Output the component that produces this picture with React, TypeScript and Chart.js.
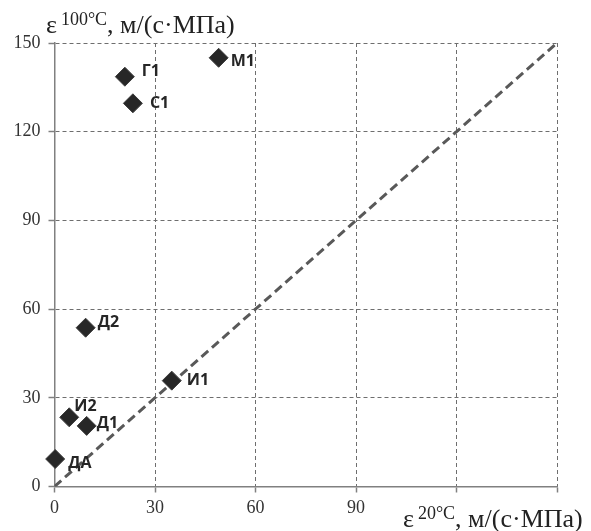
import React, { useEffect, useRef } from "react";
import { Chart, registerables } from "chart.js";

Chart.register(...registerables);

// Data
const pointNames = ["М1", "Г1", "С1", "Д2", "И1", "И2", "Д1", "ДА"];
const x20 = [49, 21, 23.4, 9.3, 35, 4.4, 9.6, 0.2];
const y100 = [145, 138.6, 129.6, 53.7, 35.8, 23.4, 20.5, 9.3];
const diagonalX = [0, 150];
const diagonalY = [0, 150];
const axisMin = 0;
const axisMax = 150;
const tickStep = 30;
const hiddenXTicks = [120, 150];

// label offsets (layout only)
const labelOffsets: [number, number][] = [
  [12, 4], [17, -5], [17, 0], [12, -5], [15, 0], [5, -11], [10, -2], [13, 4],
];

const labelsPlugin = {
  id: "pointLabels",
  afterDatasetsDraw(chart: any) {
    const ctx = chart.ctx;
    const meta = chart.getDatasetMeta(0);
    ctx.save();
    ctx.font = "bold 16px 'Open Sans'";
    ctx.fillStyle = "#262626";
    ctx.textAlign = "left";
    ctx.textBaseline = "middle";
    meta.data.forEach((el: any, i: number) => {
      const [dx, dy] = labelOffsets[i];
      ctx.fillText(pointNames[i], el.x + dx, el.y + dy);
    });
    ctx.restore();
  },
};

function drawTitle(ctx: CanvasRenderingContext2D, x: number, y: number, sup: string) {
  const main = "26px 'Liberation Serif'";
  const small = "18px 'Liberation Serif'";
  ctx.font = main;
  ctx.fillText("ε", x, y);
  x += ctx.measureText("ε").width + 4;
  ctx.font = small;
  ctx.fillText(sup, x, y - 8);
  x += ctx.measureText(sup).width;
  ctx.font = main;
  ctx.fillText(", м/(с·МПа)", x, y);
}

const titlesPlugin = {
  id: "axisTitles",
  afterDraw(chart: any) {
    const ctx = chart.ctx;
    ctx.save();
    ctx.fillStyle = "#222";
    ctx.textAlign = "left";
    ctx.textBaseline = "alphabetic";
    drawTitle(ctx, 46, 33, "100°C");
    drawTitle(ctx, 403, 527, "20°C");
    ctx.restore();
  },
};

export default function App() {
  const ref = useRef<HTMLCanvasElement>(null);
  useEffect(() => {
    if (!ref.current) return;
    const gridCommon = {
      color: "#6e6e6e",
      lineWidth: 1,
      tickLength: 6,
      tickColor: "#808080",
      tickWidth: 1.5,
    };
    const chart = new Chart(ref.current, {
      type: "scatter",
      data: {
        datasets: [
          {
            data: x20.map((v, i) => ({ x: v, y: y100[i] })),
            pointStyle: "rectRot",
            pointRadius: 9.5,
            pointBackgroundColor: "#272727",
            pointBorderColor: "#3c3c3c",
            pointBorderWidth: 1,
            showLine: false,
            clip: false,
            order: 0,
          },
          {
            data: diagonalX.map((v, i) => ({ x: v, y: diagonalY[i] })),
            showLine: true,
            pointRadius: 0,
            borderColor: "#595959",
            borderWidth: 3,
            borderDash: [9, 5],
            order: 1,
          },
        ],
      },
      options: {
        responsive: false,
        animation: false,
        layout: { padding: { left: 0, top: 43, right: 34, bottom: 0 } },
        plugins: {
          legend: { display: false },
          tooltip: { enabled: false },
        },
        scales: {
          x: {
            type: "linear",
            min: axisMin,
            max: axisMax,
            afterFit: (s: any) => {
              s.height = 44.5;
            },
            ticks: {
              stepSize: tickStep,
              padding: 5,
              color: "#333",
              font: { family: "'Liberation Serif'", size: 18 },
              callback: (v: any) => (hiddenXTicks.includes(Number(v)) ? "" : String(v)),
              maxRotation: 0,
            },
            grid: gridCommon,
            border: { display: true, color: "#808080", width: 1.5, dash: [4, 3] },
          },
          y: {
            type: "linear",
            min: axisMin,
            max: axisMax,
            afterFit: (s: any) => {
              s.width = 54.5;
            },
            ticks: {
              stepSize: tickStep,
              padding: 8,
              color: "#333",
              font: { family: "'Liberation Serif'", size: 18 },
            },
            grid: gridCommon,
            border: { display: true, color: "#808080", width: 1.5, dash: [4, 3] },
          },
        },
      },
      plugins: [labelsPlugin, titlesPlugin],
    });
    return () => chart.destroy();
  }, []);
  return (
    <canvas
      ref={ref}
      width={591}
      height={531}
      style={{ position: "fixed", left: 0, top: 0, display: "block" }}
    />
  );
}
